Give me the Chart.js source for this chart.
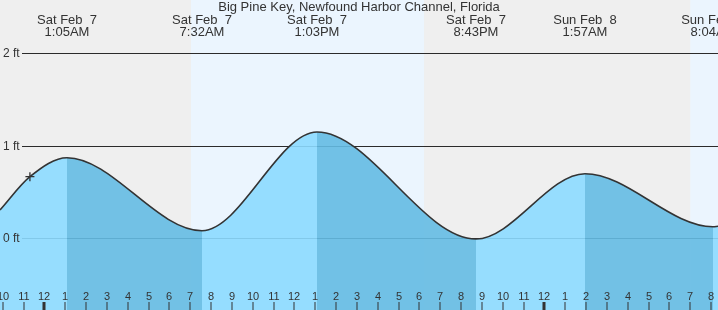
<!DOCTYPE html>
<html>
<head>
<meta charset="utf-8">
<title>Big Pine Key tide chart</title>
<script src="https://cdn.jsdelivr.net/npm/chart.js@4.4.1/dist/chart.umd.min.js"></script>
<style>
    html, body { margin: 0; padding: 0; background: #efefef; }
    #wrap { width: 718px; height: 310px; }
</style>
</head>
<body>
<div id="wrap"><canvas id="tide-chart" width="718" height="310"></canvas></div>
<script>
/* ── Chart data (hours counted from Sat Feb 7, 00:00) ── */
var chartTitle = 'Big Pine Key, Newfound Harbor Channel, Florida';

// High / low tide events
var tideDays    = ['Sat Feb  7', 'Sat Feb  7', 'Sat Feb  7', 'Sat Feb  7', 'Sun Feb  8', 'Sun Feb  8'];
var tideClock   = ['1:05AM', '7:32AM', '1:03PM', '8:43PM', '1:57AM', '8:04AM'];
var tideHours   = [1.080, 7.561, 13.081, 20.713, 25.946, 32.090];

// Curve points (edges, "now" point, extremes)
var curveHours  = [-2.136, -0.70, 1.080, 7.561, 13.081, 20.713, 25.946, 32.090, 32.33];
var curveFeet   = [0.306, 0.666, 0.871, 0.082, 1.149, -0.008, 0.698, 0.125, 0.13];

// Current time marker
var nowHours = [-0.70];
var nowFeet  = [0.666];

// Daylight bands
var dayStartHours = [7.03, 31.0];
var dayEndHours   = [18.22, 34];

// Height gridlines
var feetTicks  = [0, 1, 2];
var feetLabels = ['0 ft', '1 ft', '2 ft'];

// Hour ticks along the bottom
var hourTicks  = [-2, -1, 0, 1, 2, 3, 4, 5, 6, 7, 8, 9, 10, 11, 12, 13, 14, 15, 16, 17,
                  18, 19, 20, 21, 22, 23, 24, 25, 26, 27, 28, 29, 30, 31, 32];
var hourLabels = ['10', '11', '12', '1', '2', '3', '4', '5', '6', '7', '8', '9', '10', '11', '12', '1', '2', '3', '4', '5',
                  '6', '7', '8', '9', '10', '11', '12', '1', '2', '3', '4', '5', '6', '7', '8'];
var midnightHours = [0, 24];

/* ── Styles ── */
var FONT       = '"Liberation Sans", Arial, sans-serif';
var TEXT_COLOR = '#333333';
var RISE_FILL  = 'rgba(140, 218, 255, 0.9)';
var FALL_FILL  = 'rgba(100, 187, 227, 0.9)';

/* ── Background: night grey + daylight bands, then height gridlines ── */
var backdropPlugin = {
    id: 'tideBackdrop',
    beforeDraw: function (chart) {
        var ctx = chart.ctx;
        var xs = chart.scales.x;
        var area = chart.chartArea;
        ctx.save();
        ctx.fillStyle = '#efefef';
        ctx.fillRect(0, 0, chart.width, chart.height);
        ctx.fillStyle = '#ebf5fe';
        for (var i = 0; i < dayStartHours.length; i++) {
            var x0 = xs.getPixelForValue(dayStartHours[i]);
            var x1 = xs.getPixelForValue(dayEndHours[i]);
            ctx.fillRect(x0, area.top, x1 - x0, area.bottom - area.top);
        }
        ctx.restore();
    },
    beforeDatasetsDraw: function (chart) {
        var ctx = chart.ctx;
        var ys = chart.scales.y;
        ctx.save();
        ctx.strokeStyle = '#2b2b2b';
        ctx.lineWidth = 1;
        feetTicks.forEach(function (v) {
            var y = Math.round(ys.getPixelForValue(v)) + 0.5;
            ctx.beginPath();
            ctx.moveTo(22, y);
            ctx.lineTo(chart.width, y);
            ctx.stroke();
        });
        ctx.restore();
    },
    afterDatasetsDraw: function (chart) {
        var ctx = chart.ctx;
        var xs = chart.scales.x;
        var ys = chart.scales.y;
        ctx.save();
        ctx.fillStyle = TEXT_COLOR;

        // Height labels on the left
        ctx.font = '12px ' + FONT;
        ctx.textAlign = 'left';
        ctx.textBaseline = 'alphabetic';
        feetTicks.forEach(function (v, i) {
            ctx.fillText(feetLabels[i], 3, ys.getPixelForValue(v) + 4);
        });

        // Title
        ctx.font = '13px ' + FONT;
        ctx.textAlign = 'center';
        ctx.fillText(chartTitle, 359, 11);

        // High / low tide time labels
        tideHours.forEach(function (h, i) {
            var x = xs.getPixelForValue(h);
            ctx.fillText(tideDays[i], x, 24);
            ctx.fillText(tideClock[i], x, 35.5);
        });

        // Hour ticks and labels along the bottom
        ctx.font = '11px ' + FONT;
        hourTicks.forEach(function (h, i) {
            var x = Math.round(xs.getPixelForValue(h));
            ctx.fillText(hourLabels[i], x, 299.5);
            var isMidnight = midnightHours.indexOf(h) !== -1;
            ctx.fillRect(isMidnight ? x - 1.5 : x - 0.5, 302, isMidnight ? 3 : 1, 8);
        });
        ctx.restore();
    }
};

/* ── Build the chart ── */
var curvePoints = curveHours.map(function (h, i) { return { x: h, y: curveFeet[i] }; });
var nowPoints   = nowHours.map(function (h, i) { return { x: h, y: nowFeet[i] }; });

var ctx = document.getElementById('tide-chart').getContext('2d');
var tideChart = new Chart(ctx, {
    type: 'line',
    data: {
        datasets: [{
            label: 'Now',
            data: nowPoints,
            showLine: false,
            pointStyle: 'cross',
            pointRadius: 4.5,
            borderColor: '#333333',
            borderWidth: 1.3,
            order: 0
        }, {
            label: 'Tide (ft)',
            data: curvePoints,
            borderColor: '#333333',
            borderWidth: 1.6,
            pointRadius: 0,
            cubicInterpolationMode: 'monotone',
            fill: 'start',
            backgroundColor: RISE_FILL,
            segment: {
                backgroundColor: function (c) {
                    return c.p1.parsed.y >= c.p0.parsed.y ? RISE_FILL : FALL_FILL;
                }
            },
            order: 1
        }]
    },
    options: {
        responsive: false,
        animation: false,
        layout: { padding: 0, autoPadding: false },
        plugins: {
            legend: { display: false },
            tooltip: { enabled: false }
        },
        scales: {
            x: { type: 'linear', min: -2.136, max: 32.33, display: false },
            y: { type: 'linear', min: -0.775, max: 2.576, display: false }
        }
    },
    plugins: [backdropPlugin]
});
</script>
</body>
</html>
